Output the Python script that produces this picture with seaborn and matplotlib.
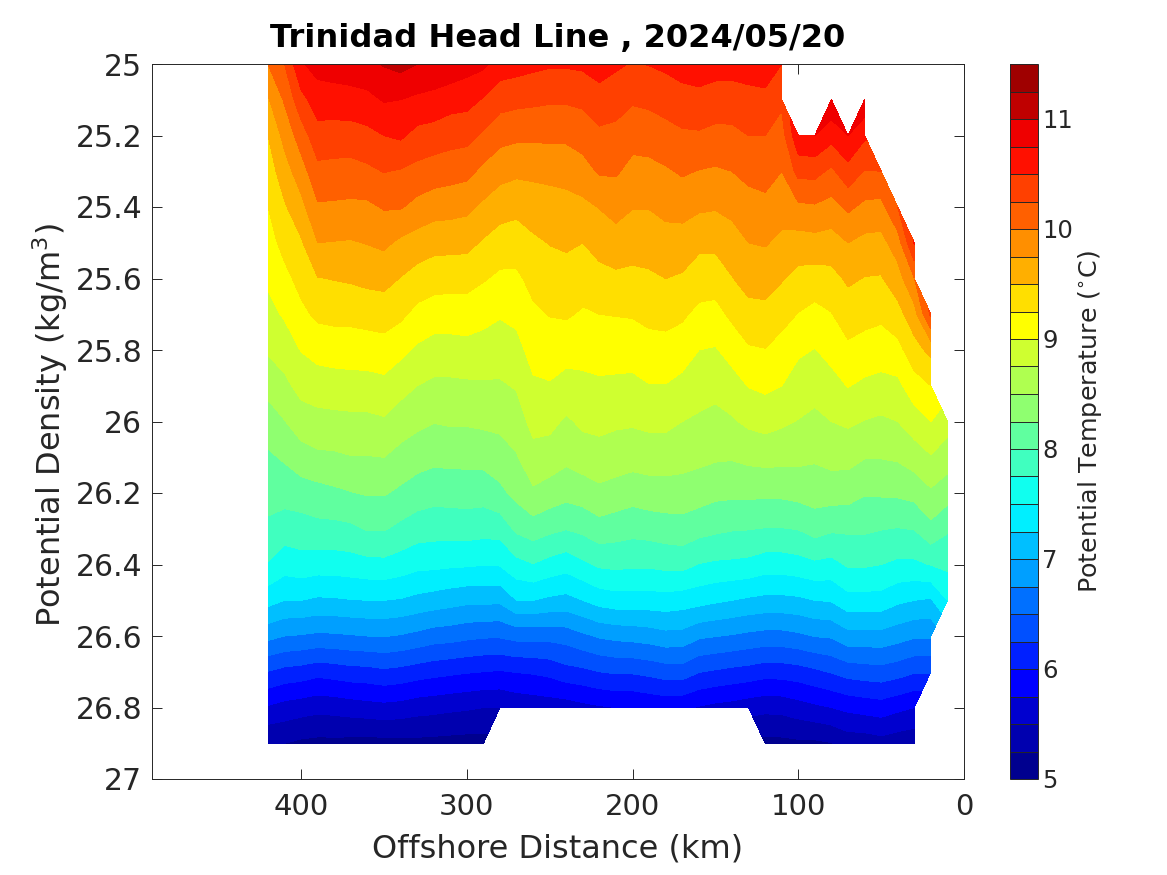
import matplotlib
matplotlib.use("Agg")
import matplotlib.pyplot as plt
import numpy as np
import seaborn as sns

nan = float("nan")

# Potential density rows and offshore stations
density = [25.0, 25.1, 25.2, 25.3, 25.4, 25.5, 25.6, 25.7, 25.8, 25.9,
           26.0, 26.1, 26.2, 26.3, 26.4, 26.5, 26.6, 26.7, 26.8, 26.9]
distance = [420, 410, 400, 390, 380, 370, 360, 350, 340, 330, 320, 310, 300, 290,
            280, 270, 260, 250, 240, 230, 220, 210, 200, 190, 180, 170, 160, 150,
            140, 130, 120, 110, 100, 90, 80, 70, 60, 50, 40, 30, 20, 10]

# Potential temperature at each station, one value per density row
t420 = [10.0, 9.72, 9.5, 9.37, 9.25, 9.15, 9.04, 8.92, 8.78, 8.58, 8.38, 8.21, 8.09, 7.95, 7.73, 7.34, 6.82, 6.24, 5.72, 5.25]
t410 = [10.25, 10.03, 9.83, 9.64, 9.47, 9.33, 9.18, 9.03, 8.86, 8.69, 8.49, 8.28, 8.1, 7.87, 7.61, 7.25, 6.75, 6.17, 5.65, 5.25]
t400 = [10.72, 10.42, 10.12, 9.89, 9.67, 9.47, 9.33, 9.19, 9.01, 8.83, 8.63, 8.39, 8.13, 7.89, 7.65, 7.25, 6.73, 6.14, 5.61, 5.2]
t390 = [10.85, 10.62, 10.41, 10.18, 9.97, 9.75, 9.49, 9.3, 9.09, 8.87, 8.67, 8.45, 8.16, 7.93, 7.62, 7.21, 6.7, 6.08, 5.57, 5.18]
t380 = [10.87, 10.64, 10.39, 10.17, 9.96, 9.74, 9.51, 9.32, 9.11, 8.89, 8.68, 8.46, 8.2, 7.93, 7.62, 7.22, 6.71, 6.11, 5.59, 5.18]
t370 = [10.9, 10.65, 10.39, 10.16, 9.95, 9.73, 9.53, 9.32, 9.12, 8.9, 8.69, 8.49, 8.24, 7.95, 7.64, 7.24, 6.73, 6.15, 5.62, 5.17]
t360 = [10.93, 10.68, 10.43, 10.2, 9.95, 9.76, 9.56, 9.35, 9.12, 8.91, 8.69, 8.49, 8.27, 8.02, 7.67, 7.25, 6.75, 6.16, 5.65, 5.15]
t350 = [11.02, 10.77, 10.5, 10.26, 10.02, 9.8, 9.58, 9.36, 9.15, 8.93, 8.72, 8.5, 8.27, 8.02, 7.68, 7.25, 6.76, 6.2, 5.67, 5.17]
t340 = [11.08, 10.75, 10.54, 10.23, 10.02, 9.7, 9.49, 9.3, 9.06, 8.84, 8.62, 8.42, 8.2, 7.94, 7.63, 7.23, 6.73, 6.17, 5.65, 5.17]
t330 = [11.0, 10.7, 10.42, 10.18, 9.92, 9.64, 9.4, 9.18, 8.96, 8.75, 8.56, 8.35, 8.13, 7.87, 7.57, 7.18, 6.68, 6.12, 5.6, 5.18]
t320 = [10.95, 10.67, 10.39, 10.13, 9.86, 9.58, 9.36, 9.12, 8.9, 8.7, 8.51, 8.31, 8.09, 7.85, 7.56, 7.14, 6.62, 6.08, 5.58, 5.17]
t310 = [10.93, 10.6, 10.35, 10.1, 9.84, 9.58, 9.34, 9.12, 8.9, 8.7, 8.53, 8.32, 8.1, 7.85, 7.54, 7.1, 6.6, 6.05, 5.55, 5.16]
t300 = [10.85, 10.58, 10.33, 10.07, 9.81, 9.57, 9.34, 9.12, 8.92, 8.71, 8.53, 8.32, 8.11, 7.86, 7.53, 7.06, 6.56, 6.02, 5.53, 5.15]
t290 = [10.8, 10.48, 10.21, 9.94, 9.7, 9.47, 9.27, 9.08, 8.89, 8.72, 8.55, 8.33, 8.1, 7.84, 7.51, 7.06, 6.53, 6.0, 5.5, 5.15]
t280 = [10.63, 10.35, 10.08, 9.84, 9.6, 9.39, 9.2, 9.02, 8.87, 8.72, 8.56, 8.39, 8.19, 7.85, 7.52, 7.05, 6.53, 5.98, 5.5, nan]
t270 = [10.6, 10.32, 10.05, 9.8, 9.56, 9.38, 9.2, 9.06, 8.92, 8.77, 8.63, 8.48, 8.32, 8.05, 7.67, 7.25, 6.58, 6.01, 5.56, nan]
t260 = [10.56, 10.3, 10.05, 9.8, 9.63, 9.45, 9.33, 9.2, 9.09, 8.96, 8.83, 8.66, 8.46, 8.13, 7.74, 7.25, 6.58, 6.03, 5.59, nan]
t250 = [10.53, 10.28, 10.05, 9.82, 9.64, 9.51, 9.38, 9.26, 9.12, 8.98, 8.82, 8.63, 8.39, 8.06, 7.66, 7.2, 6.58, 6.07, 5.61, nan]
t240 = [10.53, 10.28, 10.05, 9.84, 9.66, 9.53, 9.42, 9.28, 9.08, 8.92, 8.71, 8.56, 8.33, 8.01, 7.6, 7.17, 6.61, 6.16, 5.62, nan]
t230 = [10.55, 10.3, 10.11, 9.9, 9.69, 9.5, 9.36, 9.22, 9.08, 8.94, 8.8, 8.62, 8.37, 8.06, 7.7, 7.25, 6.7, 6.19, 5.68, nan]
t220 = [10.62, 10.39, 10.2, 10.03, 9.76, 9.59, 9.42, 9.25, 9.1, 8.96, 8.82, 8.65, 8.44, 8.15, 7.79, 7.35, 6.78, 6.25, 5.72, nan]
t210 = [10.54, 10.35, 10.18, 10.03, 9.84, 9.64, 9.45, 9.26, 9.1, 8.95, 8.79, 8.62, 8.4, 8.11, 7.81, 7.39, 6.82, 6.28, 5.75, nan]
t200 = [10.48, 10.28, 10.09, 9.92, 9.76, 9.6, 9.44, 9.27, 9.1, 8.94, 8.78, 8.6, 8.35, 8.08, 7.79, 7.39, 6.84, 6.28, 5.75, nan]
t190 = [10.51, 10.3, 10.12, 9.92, 9.76, 9.61, 9.46, 9.31, 9.16, 8.99, 8.81, 8.61, 8.39, 8.1, 7.79, 7.39, 6.87, 6.32, 5.79, nan]
t180 = [10.55, 10.35, 10.16, 9.97, 9.82, 9.65, 9.5, 9.33, 9.16, 8.99, 8.81, 8.61, 8.4, 8.13, 7.82, 7.4, 6.92, 6.37, 5.82, nan]
t170 = [10.6, 10.41, 10.21, 10.03, 9.84, 9.64, 9.47, 9.29, 9.11, 8.93, 8.75, 8.59, 8.39, 8.15, 7.83, 7.37, 6.91, 6.38, 5.8, nan]
t160 = [10.64, 10.42, 10.22, 9.99, 9.79, 9.55, 9.39, 9.18, 9.0, 8.86, 8.71, 8.56, 8.36, 8.09, 7.74, 7.34, 6.79, 6.26, 5.73, nan]
t150 = [10.6, 10.39, 10.18, 9.97, 9.77, 9.56, 9.36, 9.17, 8.98, 8.82, 8.68, 8.53, 8.31, 8.05, 7.71, 7.29, 6.76, 6.22, 5.68, nan]
t140 = [10.6, 10.38, 10.19, 10.0, 9.83, 9.62, 9.49, 9.3, 9.09, 8.9, 8.72, 8.52, 8.3, 8.02, 7.7, 7.25, 6.73, 6.18, 5.65, nan]
t130 = [10.61, 10.42, 10.25, 10.07, 9.9, 9.75, 9.59, 9.42, 9.22, 9.01, 8.8, 8.56, 8.3, 8.01, 7.68, 7.21, 6.69, 6.15, 5.6, nan]
t120 = [10.62, 10.44, 10.25, 10.1, 9.93, 9.77, 9.6, 9.43, 9.24, 9.05, 8.84, 8.58, 8.3, 7.99, 7.62, 7.18, 6.66, 6.1, 5.57, 5.17]
t110 = [10.5, 10.3, 10.14, 10.0, 9.85, 9.69, 9.52, 9.33, 9.16, 9.0, 8.79, 8.57, 8.3, 7.99, 7.62, 7.18, 6.66, 6.11, 5.58, 5.18]
t100 = [nan, nan, 10.7, 10.33, 9.95, 9.64, 9.42, 9.24, 9.04, 8.88, 8.74, 8.56, 8.33, 8.01, 7.65, 7.2, 6.7, 6.14, 5.64, 5.2]
t90 = [nan, nan, 10.75, 10.33, 9.97, 9.66, 9.39, 9.17, 8.99, 8.84, 8.69, 8.53, 8.36, 8.1, 7.7, 7.25, 6.76, 6.2, 5.7, 5.2]
t80 = [nan, 10.95, 10.59, 10.2, 9.91, 9.64, 9.42, 9.24, 9.08, 8.91, 8.75, 8.58, 8.36, 8.04, 7.67, 7.27, 6.78, 6.27, 5.75, 5.24]
t70 = [nan, nan, 10.75, 10.41, 10.05, 9.75, 9.54, 9.37, 9.2, 9.01, 8.79, 8.58, 8.35, 8.04, 7.78, 7.41, 6.91, 6.35, 5.81, 5.35]
t60 = [nan, 10.95, 10.54, 10.24, 9.94, 9.68, 9.49, 9.33, 9.15, 8.95, 8.74, 8.51, 8.27, 8.04, 7.78, 7.41, 6.91, 6.38, 5.85, 5.35]
t50 = [nan, nan, nan, 10.25, 9.92, 9.67, 9.48, 9.3, 9.12, 8.92, 8.71, 8.51, 8.28, 8.01, 7.75, 7.4, 6.91, 6.4, 5.88, 5.4]
t40 = [nan, nan, nan, nan, 10.25, 9.88, 9.64, 9.41, 9.17, 8.94, 8.75, 8.53, 8.29, 7.99, 7.7, 7.3, 6.85, 6.35, 5.81, 5.35]
t30 = [nan, nan, nan, nan, nan, 10.52, 9.99, 9.65, 9.4, 9.14, 8.88, 8.62, 8.33, 8.01, 7.7, 7.25, 6.78, 6.27, 5.75, 5.32]
t20 = [nan, nan, nan, nan, nan, nan, nan, 10.3, 9.57, 9.25, 9.0, 8.73, 8.46, 8.18, 7.76, 7.22, 6.78, 6.27, nan, nan]
t10 = [nan, nan, nan, nan, nan, nan, nan, nan, nan, nan, 8.85, 8.62, 8.36, 8.03, 7.81, 7.5, nan, nan, nan, nan]

stations = [t420, t410, t400, t390, t380, t370, t360, t350, t340, t330, t320, t310, t300, t290,
            t280, t270, t260, t250, t240, t230, t220, t210, t200, t190, t180, t170, t160, t150,
            t140, t130, t120, t110, t100, t90, t80, t70, t60, t50, t40, t30, t20, t10]

temp_levels = np.arange(5, 11.75, 0.25)
cbar_ticks = [5, 6, 7, 8, 9, 10, 11]
density_ticks = [25, 25.2, 25.4, 25.6, 25.8, 26, 26.2, 26.4, 26.6, 26.8, 27]
distance_ticks = [0, 100, 200, 300, 400]

sns.set_theme(style="ticks", rc={
    "xtick.direction": "in",
    "ytick.direction": "in",
    "xtick.top": True,
    "ytick.right": True,
    "xtick.major.size": 7,
    "ytick.major.size": 7,
    "xtick.major.width": 0.7,
    "ytick.major.width": 0.7,
    "axes.linewidth": 0.7,
})
plt.rcParams["font.family"] = "DejaVu Sans"
plt.rcParams["mathtext.default"] = "regular"

# 64 step jet, each band takes the colour of its lower level
n_bands = len(temp_levels) - 1
k = np.floor(64 * np.arange(n_bands) / n_bands) + 1
x = k / 64
band_colors = np.clip(np.column_stack([1.5 - np.abs(4 * x - 3),
                                       1.5 - np.abs(4 * x - 2),
                                       1.5 - np.abs(4 * x - 1)]), 0, 1)

W, H = 1167, 875
fig = plt.figure(figsize=(W / 100, H / 100), dpi=100)
ax = fig.add_axes([152 / W, (H - 779) / H, (964 - 152) / W, (779 - 64) / H])

temps = np.ma.masked_invalid(np.array(stations).T)
cs = ax.contourf(distance, density, temps, levels=temp_levels,
                 colors=[tuple(c) for c in band_colors], corner_mask=True)

ax.set_xlim(490, 0)
ax.set_ylim(27, 25)
ax.set_xticks(distance_ticks)
ax.set_yticks(density_ticks)
ax.set_yticklabels([f"{d:g}" for d in density_ticks])
ax.tick_params(axis="x", labelsize=21, pad=10)
ax.tick_params(axis="y", labelsize=21.5, pad=7)
ax.set_xlabel("Offshore Distance (km)", fontsize=23, labelpad=9)
ax.set_ylabel("Potential Density (kg/m$^3$)", fontsize=23, labelpad=4, y=0.495)
ax.set_title("Trinidad Head Line , 2024/05/20", fontsize=23.1, fontweight="bold",
             color="black", pad=12)

cax = fig.add_axes([1010 / W, (H - 779) / H, 28 / W, (779 - 64) / H])
cbar = fig.colorbar(cs, cax=cax, drawedges=True)
cbar.set_ticks(cbar_ticks)
cbar.ax.tick_params(labelsize=17.5, length=0, pad=3)
cbar.dividers.set_color("#262626")
cbar.dividers.set_linewidth(0.7)
cbar.outline.set_linewidth(0.7)
cbar.set_label("Potential Temperature ($^{\\circ}$C)", fontsize=18.3, labelpad=2)

plt.savefig("out.png", dpi=100)
